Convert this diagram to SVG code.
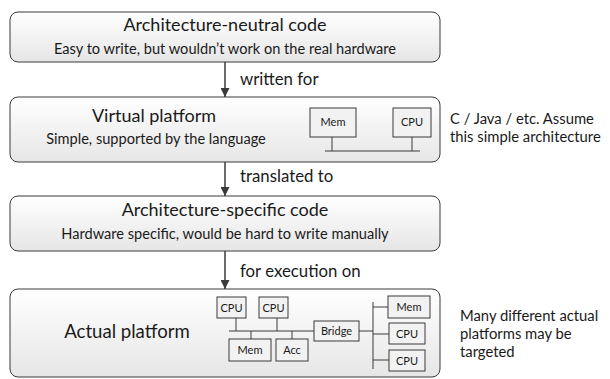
<svg xmlns="http://www.w3.org/2000/svg" width="610" height="379" viewBox="0 0 610 379">
<defs>
<linearGradient id="g" x1="0" y1="0" x2="0" y2="1">
<stop offset="0" stop-color="#ffffff"/>
<stop offset="1" stop-color="#e6e6e6"/>
</linearGradient>
<marker id="ah" viewBox="0 0 10 10" refX="10" refY="5" markerWidth="9" markerHeight="9" markerUnits="userSpaceOnUse" orient="auto">
<path d="M0,0 L10,5 L0,10 z" fill="#3a3a3a"/>
</marker>
<style>
text{font-family:Lato,"Open Sans","Liberation Sans",sans-serif;fill:#1a1a1a}
.big{font-size:18px;text-anchor:middle}
.sub{font-size:14.6px;text-anchor:middle}
.lbl{font-size:16.8px}
.side{font-size:14.8px}
.mini{font-size:11px;text-anchor:middle}
.box{fill:url(#g);stroke:#3a3a3a;stroke-width:1}
.mb{fill:#f2f2f2;stroke:#3a3a3a;stroke-width:1}
.ln{stroke:#3a3a3a;stroke-width:1;fill:none}
.arr{stroke:#3a3a3a;stroke-width:1.5;fill:none;marker-end:url(#ah)}
</style>
</defs>
<g id="connectors">
<line class="arr" x1="225" y1="62" x2="225" y2="97"/>
<line class="arr" x1="225" y1="162" x2="225" y2="196"/>
<line class="arr" x1="225" y1="251" x2="225" y2="289"/>
<text class="lbl" x="240" y="85">written for</text>
<text class="lbl" x="240" y="182">translated to</text>
<text class="lbl" x="240" y="277">for execution on</text>
</g>
<g id="node-neutral">
<rect class="box" x="10" y="12" width="430" height="50" rx="8"/>
<text class="big" x="225" y="31">Architecture-neutral code</text>
<text class="sub" x="225" y="54">Easy to write, but wouldn’t work on the real hardware</text>
</g>
<g id="node-virtual">
<rect class="box" x="10" y="97" width="430" height="65" rx="8"/>
<text class="big" x="154" y="122">Virtual platform</text>
<text class="sub" x="156" y="144">Simple, supported by the language</text>
<g id="virtual-arch">
<rect class="mb" x="310" y="108" width="46" height="29"/>
<text class="mini" x="333" y="126">Mem</text>
<rect class="mb" x="393" y="108" width="38" height="29"/>
<text class="mini" x="412" y="126">CPU</text>
<path class="ln" d="M332,137 V151 M412,137 V151 M325,151 H420"/>
</g>
</g>
<g id="note-virtual">
<text class="side" x="450" y="124">C / Java / etc. Assume</text>
<text class="side" x="450" y="142">this simple architecture</text>
</g>
<g id="node-specific">
<rect class="box" x="10" y="196" width="430" height="55" rx="8"/>
<text class="big" x="225" y="216">Architecture-specific code</text>
<text class="sub" x="225" y="239">Hardware specific, would be hard to write manually</text>
</g>
<g id="node-actual">
<rect class="box" x="10" y="289" width="430" height="88" rx="8"/>
<text class="big" x="127" y="338" style="font-size:18.6px">Actual platform</text>
<g id="actual-arch">
<path class="ln" d="M236,318 V331 M277,318 V331 M229,331 H314 M251,331 V339 M292,331 V339 M359,331 H373 M373,302 V369 M373,307 H388 M373,334 H389 M373,360 H389"/>
<rect class="mb" x="217" y="297" width="29" height="21"/>
<text class="mini" x="231.5" y="311.5">CPU</text>
<rect class="mb" x="259" y="297" width="29" height="21"/>
<text class="mini" x="273.5" y="311.5">CPU</text>
<rect class="mb" x="229" y="339" width="42" height="22"/>
<text class="mini" x="250" y="354">Mem</text>
<rect class="mb" x="276" y="339" width="32" height="22"/>
<text class="mini" x="292" y="354">Acc</text>
<rect class="mb" x="314" y="321" width="45" height="20"/>
<text class="mini" x="336.5" y="335">Bridge</text>
<rect class="mb" x="388" y="296" width="42" height="22"/>
<text class="mini" x="409" y="311">Mem</text>
<rect class="mb" x="389" y="323" width="36" height="21"/>
<text class="mini" x="407" y="337.5">CPU</text>
<rect class="mb" x="389" y="350" width="36" height="21"/>
<text class="mini" x="407" y="364.5">CPU</text>
</g>
</g>
<g id="note-actual">
<text class="side" x="460" y="321">Many different actual</text>
<text class="side" x="460" y="339">platforms may be</text>
<text class="side" x="460" y="357">targeted</text>
</g>
</svg>
